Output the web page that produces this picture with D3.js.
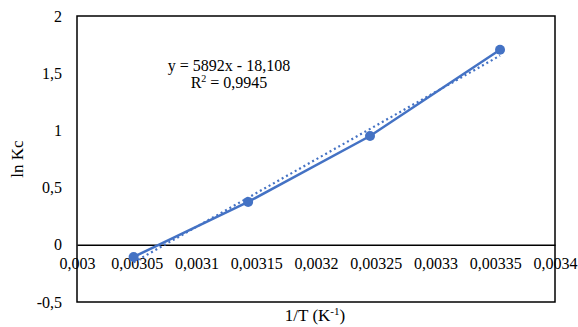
<!DOCTYPE html>
<html>
<head>
<meta charset="utf-8">
<script src="https://cdn.jsdelivr.net/npm/d3@7"></script>
<style>
  html, body { margin: 0; padding: 0; background: #fff; }
  svg { display: block; }
  text { font-family: "Liberation Serif", "Times New Roman", serif; fill: #000; }
</style>
</head>
<body>
<svg id="chart" width="578" height="327"></svg>
<script>
// Van 't Hoff plot: ln Kc against 1/T
const invT = [0.0030474, 0.0031432, 0.0032452, 0.0033540];
const lnKc = [-0.106, 0.375, 0.951, 1.705];
const xTicks = [0.003, 0.00305, 0.0031, 0.00315, 0.0032, 0.00325, 0.0033, 0.00335, 0.0034];
const yTicks = [-0.5, 0, 0.5, 1, 1.5, 2];
const fitSlope = 5892;
const fitIntercept = -18.108;
const fitR2 = 0.9945;

const svg = d3.select("#chart");
const m = { left: 77, right: 23, top: 16, bottom: 25 };
const W = 578, H = 327;

const x = d3.scaleLinear().domain([0.003, 0.0034]).range([m.left, W - m.right]);
const y = d3.scaleLinear().domain([-0.5, 2]).range([H - m.bottom, m.top]);

const comma = v => String(v).replace(".", ",");

// plot frame
svg.append("rect")
  .attr("x", x(0.003)).attr("y", y(2))
  .attr("width", x(0.0034) - x(0.003)).attr("height", y(-0.5) - y(2))
  .attr("fill", "none").attr("stroke", "#000").attr("stroke-width", 1.5);

// x axis along y = 0, labels hang below the line
const xAxis = d3.axisBottom(x).tickValues(xTicks).tickSize(0).tickPadding(13)
  .tickFormat(d => comma(+d.toPrecision(6)));
const gx = svg.append("g").attr("transform", `translate(0,${y(0)})`).call(xAxis);
gx.attr("font-family", null).attr("font-size", null);
gx.select(".domain").attr("stroke", "#000").attr("stroke-width", 1.5);
gx.selectAll("text").attr("font-size", 16).attr("fill", "#000");

// y axis
const yAxis = d3.axisLeft(y).tickValues(yTicks).tickSize(0).tickPadding(15)
  .tickFormat(d => comma(d));
const gy = svg.append("g").attr("transform", `translate(${x(0.003)},0)`).call(yAxis);
gy.attr("font-family", null).attr("font-size", null);
gy.select(".domain").remove();
gy.selectAll("text").attr("font-size", 16).attr("fill", "#000");

// linear trendline from the fitted equation
const x0 = d3.min(invT), x1 = d3.max(invT);
svg.append("line")
  .attr("x1", x(x0)).attr("y1", y(fitSlope * x0 + fitIntercept))
  .attr("x2", x(x1)).attr("y2", y(fitSlope * x1 + fitIntercept))
  .attr("stroke", "#4472C4").attr("stroke-width", 2.2)
  .attr("stroke-dasharray", "2,3").attr("stroke-linecap", "butt");

// data series
const pts = invT.map((v, i) => [v, lnKc[i]]);
svg.append("path")
  .attr("d", d3.line().x(d => x(d[0])).y(d => y(d[1]))(pts))
  .attr("fill", "none").attr("stroke", "#4472C4").attr("stroke-width", 2.5);
svg.selectAll("circle.pt").data(pts).enter().append("circle")
  .attr("class", "pt")
  .attr("cx", d => x(d[0])).attr("cy", d => y(d[1])).attr("r", 5)
  .attr("fill", "#4472C4");

// equation label
const eq = svg.append("text").attr("x", 229).attr("y", 71).attr("text-anchor", "middle").attr("font-size", 16);
eq.text(`y = ${fitSlope}x  - ${comma(-fitIntercept)}`);
const r2 = svg.append("text").attr("x", 229).attr("y", 88).attr("text-anchor", "middle").attr("font-size", 16);
r2.append("tspan").text("R");
r2.append("tspan").attr("font-size", 10).attr("dy", -6).text("2");
r2.append("tspan").attr("dy", 6).text(` = ${comma(fitR2)}`);

// axis titles
svg.append("text")
  .attr("transform", `translate(23,${(y(2) + y(-0.5)) / 2}) rotate(-90)`)
  .attr("text-anchor", "middle").attr("font-size", 17).text("ln Kc");
const xt = svg.append("text").attr("x", 315).attr("y", 321).attr("text-anchor", "middle").attr("font-size", 17);
xt.append("tspan").text("1/T (K");
xt.append("tspan").attr("font-size", 11).attr("dy", -6).text("-1");
xt.append("tspan").attr("dy", 6).text(")");
</script>
</body>
</html>
